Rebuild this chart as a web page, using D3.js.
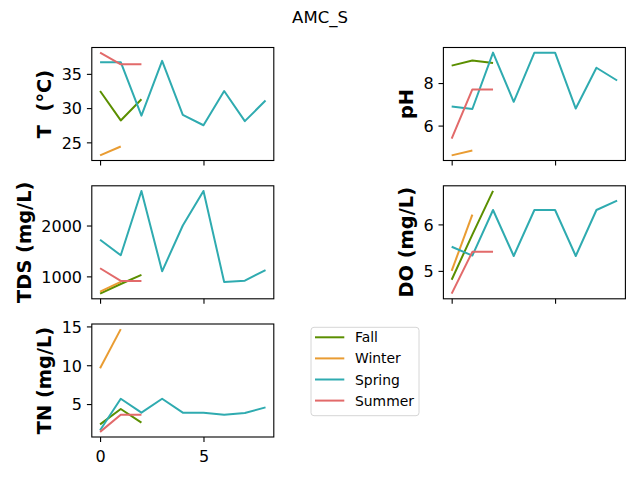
<!DOCTYPE html>
<html>
<head>
<meta charset="utf-8">
<script src="https://cdn.jsdelivr.net/npm/d3@7"></script>
<style>
  body { margin: 0; background: #fff; }
  text { font-family: "DejaVu Sans", sans-serif; fill: #000; white-space: pre; }
</style>
</head>
<body>
<div id="chart"></div>
<script>
// series order: Fall, Winter, Spring, Summer
const seasons = ['Fall', 'Winter', 'Spring', 'Summer'];
const seasonColors = ['#5b8f00', '#e99c32', '#2fabb0', '#e26a6a'];

const tempValues = [
    [32.5, 28.2, 31.3],
    [23.1, 24.4],
    [36.7, 36.7, 28.9, 36.9, 29.0, 27.5, 32.5, 28.1, 31.1],
    [38.1, 36.4, 36.4]
];
const phValues = [
    [8.82, 9.06, 8.94],
    [4.60, 4.83],
    [6.90, 6.78, 9.43, 7.12, 9.43, 9.43, 6.80, 8.72, 8.12],
    [5.39, 7.70, 7.70]
];
const tdsValues = [
    [660, 850, 1030],
    [700, 890],
    [1720, 1415, 2680, 1100, 2000, 2680, 890, 915, 1125],
    [1160, 910, 910]
];
const doValues = [
    [4.81, 5.78, 6.72],
    [5.00, 6.21],
    [5.52, 5.33, 6.31, 5.32, 6.31, 6.31, 5.32, 6.31, 6.51],
    [4.51, 5.41, 5.41]
];
const tnValues = [
    [2.39, 4.36, 2.62],
    [9.62, 14.65],
    [1.63, 5.68, 3.89, 5.68, 3.89, 3.89, 3.63, 3.85, 4.57],
    [1.42, 3.63, 3.63]
];

const xTicks = [0, 5];
const tempTicks = [25, 30, 35];
const phTicks = [6, 8];
const tdsTicks = [1000, 2000];
const doTicks = [5, 6];
const tnTicks = [5, 10, 15];

const panels = [
    {label: 'T  (°C)', values: tempValues, ticks: tempTicks, col: 0, row: 0},
    {label: 'pH', values: phValues, ticks: phTicks, col: 1, row: 0},
    {label: 'TDS (mg/L)', values: tdsValues, ticks: tdsTicks, col: 0, row: 1},
    {label: 'DO (mg/L)', values: doValues, ticks: doTicks, col: 1, row: 1},
    {label: 'TN (mg/L)', values: tnValues, ticks: tnTicks, col: 0, row: 2}
];

const width = 640, height = 480;
const colLeft = [91.8, 443.4], colWidth = 182;
const rowTop = [47.5, 185.8, 324], rowHeight = 113;
const tickLen = 4.9, tickPad = 4.9;
const fmt = d3.format('d');

const svg = d3.select('#chart').append('svg')
    .attr('width', width)
    .attr('height', height);

svg.append('text')
    .attr('x', 320)
    .attr('y', 23.3)
    .attr('text-anchor', 'middle')
    .style('font-size', '16.5px')
    .text('AMC_S');

// shared x range over all series, 5% margins like matplotlib
const xMax = d3.max(panels, p => d3.max(p.values, v => v.length - 1));
const xPad = xMax * 0.05;

panels.forEach(p => {
    const left = colLeft[p.col], top = rowTop[p.row];
    const g = svg.append('g').attr('transform', 'translate(' + left + ',' + top + ')');

    const all = p.values.flat();
    const lo = d3.min(all), hi = d3.max(all), pad = (hi - lo) * 0.05;

    const x = d3.scaleLinear().domain([-xPad, xMax + xPad]).range([0, colWidth]);
    const y = d3.scaleLinear().domain([lo - pad, hi + pad]).range([rowHeight, 0]);

    const line = d3.line()
        .x((d, i) => x(i))
        .y(d => y(d));

    g.selectAll('.series')
        .data(p.values)
      .enter().append('path')
        .attr('class', 'series')
        .attr('d', d => line(d))
        .attr('fill', 'none')
        .attr('stroke', (d, i) => seasonColors[i])
        .attr('stroke-width', 2)
        .attr('stroke-linejoin', 'round');

    // y axis
    const yAxis = g.append('g')
        .call(d3.axisLeft(y).tickValues(p.ticks).tickFormat(fmt)
            .tickSizeInner(tickLen).tickSizeOuter(0).tickPadding(tickPad));
    yAxis.select('.domain').remove();
    yAxis.selectAll('line').attr('stroke', '#000').attr('stroke-width', 1.1);
    yAxis.selectAll('text')
        .style('font-size', '16px')
        .attr('dy', '0.36em');

    // x axis (labels only on bottom row)
    const xAxis = g.append('g')
        .attr('transform', 'translate(0,' + rowHeight + ')')
        .call(d3.axisBottom(x).tickValues(xTicks).tickFormat(fmt)
            .tickSizeInner(tickLen).tickSizeOuter(0).tickPadding(tickPad));
    xAxis.select('.domain').remove();
    xAxis.selectAll('line').attr('stroke', '#000').attr('stroke-width', 1.1);
    xAxis.selectAll('text')
        .style('font-size', '16px')
        .attr('dy', '0.93em')
        .text(d => p.row === 2 ? fmt(d) : '');

    g.append('rect')
        .attr('width', colWidth)
        .attr('height', rowHeight)
        .attr('fill', 'none')
        .attr('stroke', '#000')
        .attr('stroke-width', 1.1);

    // y label, placed left of the widest tick label
    let tickW = 0;
    yAxis.selectAll('text').each(function () {
        tickW = Math.max(tickW, this.getComputedTextLength());
    });
    const lx = -(tickLen + tickPad + tickW + 5.6 + 4.6);
    g.append('text')
        .attr('transform', 'translate(' + lx + ',' + (rowHeight / 2) + ') rotate(-90)')
        .attr('text-anchor', 'middle')
        .attr('xml:space', 'preserve')
        .style('font-size', '19.4px')
        .style('font-weight', 'bold')
        .text(p.label);
});

// legend in the empty bottom-right slot
const legend = svg.append('g').attr('transform', 'translate(311,327.3)');
legend.append('rect')
    .attr('width', 108)
    .attr('height', 88.4)
    .attr('rx', 3)
    .attr('fill', '#fff')
    .attr('stroke', '#d6d6d6')
    .attr('stroke-width', 1);
const entries = legend.selectAll('.entry')
    .data(seasons)
  .enter().append('g')
    .attr('class', 'entry')
    .attr('transform', (d, i) => 'translate(0,' + (10 + i * 21.1) + ')');
entries.append('line')
    .attr('x1', 4).attr('x2', 33.3)
    .attr('stroke', (d, i) => seasonColors[i])
    .attr('stroke-width', 2);
entries.append('text')
    .attr('x', 44)
    .attr('dy', '0.36em')
    .style('font-size', '13.9px')
    .text(d => d);
</script>
</body>
</html>
